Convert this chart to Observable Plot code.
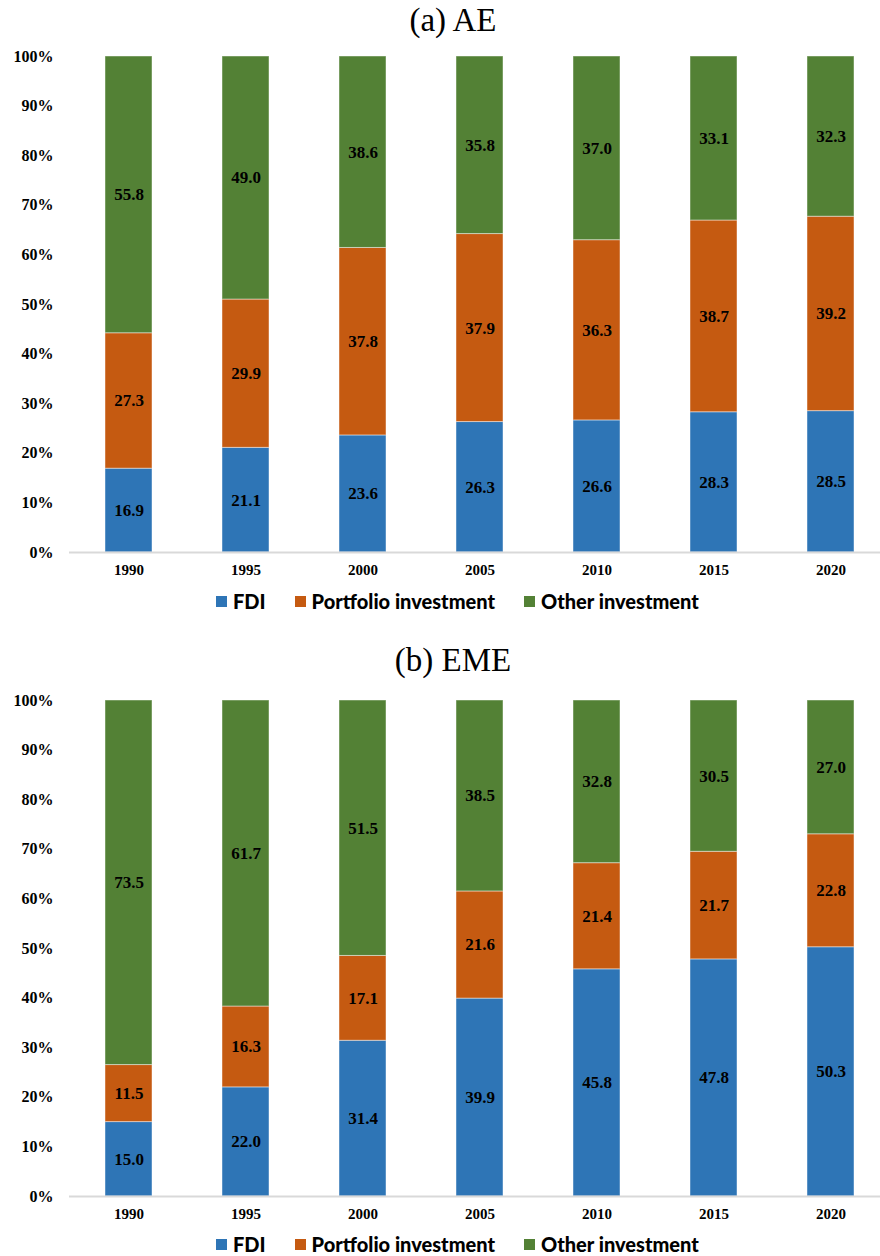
<!DOCTYPE html>
<html>
<head>
<meta charset="utf-8">
<script src="https://cdn.jsdelivr.net/npm/d3@7"></script>
<script src="https://cdn.jsdelivr.net/npm/@observablehq/plot@0.6"></script>
<style>
  html, body { margin: 0; padding: 0; background: #fff; }
  #root { position: relative; width: 880px; height: 1256px; overflow: hidden; }
  .title { position: absolute; left: 0; width: 906px; text-align: center;
           font-family: "Liberation Serif", "Times New Roman", serif; font-size: 33px; line-height: 33px; color: #000; }
  .panel { position: absolute; left: 0; }
  .legend { position: absolute; left: 216px; display: flex; align-items: center;
            font-family: Lato, "Open Sans", sans-serif; font-weight: 900; font-size: 20px; color: #000; line-height: 22px; }
  .legend .item { display: flex; align-items: center; margin-right: 29px; }
  .legend .sw { width: 11px; height: 11px; margin-right: 6px; }
</style>
</head>
<body>
<div id="root"></div>
<script>
const years = ["1990", "1995", "2000", "2005", "2010", "2015", "2020"];
const types = ["FDI", "Portfolio investment", "Other investment"];
const colors = ["#2E75B6", "#C55A11", "#538135"];
const yTicks = [0, 10, 20, 30, 40, 50, 60, 70, 80, 90, 100];

// (a) AE
const aeFDI = [16.9, 21.1, 23.6, 26.3, 26.6, 28.3, 28.5];
const aePortfolio = [27.3, 29.9, 37.8, 37.9, 36.3, 38.7, 39.2];
const aeOther = [55.8, 49.0, 38.6, 35.8, 37.0, 33.1, 32.3];

// (b) EME
const emeFDI = [15.0, 22.0, 31.4, 39.9, 45.8, 47.8, 50.3];
const emePortfolio = [11.5, 16.3, 17.1, 21.6, 21.4, 21.7, 22.8];
const emeOther = [73.5, 61.7, 51.5, 38.5, 32.8, 30.5, 27.0];

function toRows(fdi, port, other) {
  const rows = [];
  const series = [fdi, port, other];
  years.forEach((yr, i) => {
    types.forEach((t, j) => rows.push({year: yr, type: t, value: series[j][i]}));
  });
  return rows;
}

function makeChart(rows) {
  return Plot.plot({
    width: 880,
    height: 541,
    marginTop: 16,
    marginBottom: 29,
    marginLeft: 69,
    marginRight: 0,
    style: {fontFamily: '"Liberation Serif", "Times New Roman", serif', fontWeight: "bold", fontSize: "16px", color: "#000", background: "transparent", overflow: "visible"},
    x: {domain: years, range: [69, 890], paddingInner: 0.6, paddingOuter: 0.3, align: 0.5, label: null},
    y: {domain: [0, 1], label: null},
    color: {domain: types, range: colors},
    marks: [
      Plot.barY(rows, Plot.stackY({offset: "normalize", x: "year", y: "value", fill: "type", stroke: "#ffffff", strokeOpacity: 0.45, strokeWidth: 1})),
      Plot.ruleY([0], {stroke: "#d9d9d9", strokeWidth: 2}),
      Plot.text(rows, Plot.stackY({offset: "normalize", x: "year", y: "value", z: "type", text: d => d.value.toFixed(1), fontSize: 17, fontWeight: "bold", fill: "#000"})),
      Plot.axisY({ticks: yTicks.map(d => d / 100), tickFormat: d => Math.round(d * 100) + "%", tickSize: 0, tickPadding: 16, fontSize: 16, fontWeight: "bold", label: null}),
      Plot.axisX({tickSize: 0, tickPadding: 12, fontSize: 15, fontWeight: "bold", label: null})
    ]
  });
}

function makeLegend(top) {
  const div = document.createElement("div");
  div.className = "legend";
  div.style.top = top + "px";
  types.forEach((t, i) => {
    const item = document.createElement("div");
    item.className = "item";
    const sw = document.createElement("div");
    sw.className = "sw";
    sw.style.background = colors[i];
    const lab = document.createElement("span");
    lab.textContent = t;
    item.appendChild(sw);
    item.appendChild(lab);
    div.appendChild(item);
  });
  return div;
}

const root = document.getElementById("root");

function addPanel(titleText, titleTop, svgTop, legendTop, rows) {
  const t = document.createElement("div");
  t.className = "title";
  t.style.top = titleTop + "px";
  t.textContent = titleText;
  root.appendChild(t);
  const p = document.createElement("div");
  p.className = "panel";
  p.style.top = svgTop + "px";
  p.appendChild(makeChart(rows));
  root.appendChild(p);
  root.appendChild(makeLegend(legendTop));
}

addPanel("(a) AE", 4, 40, 590, toRows(aeFDI, aePortfolio, aeOther));
addPanel("(b) EME", 644, 684, 1233, toRows(emeFDI, emePortfolio, emeOther));
</script>
</body>
</html>
